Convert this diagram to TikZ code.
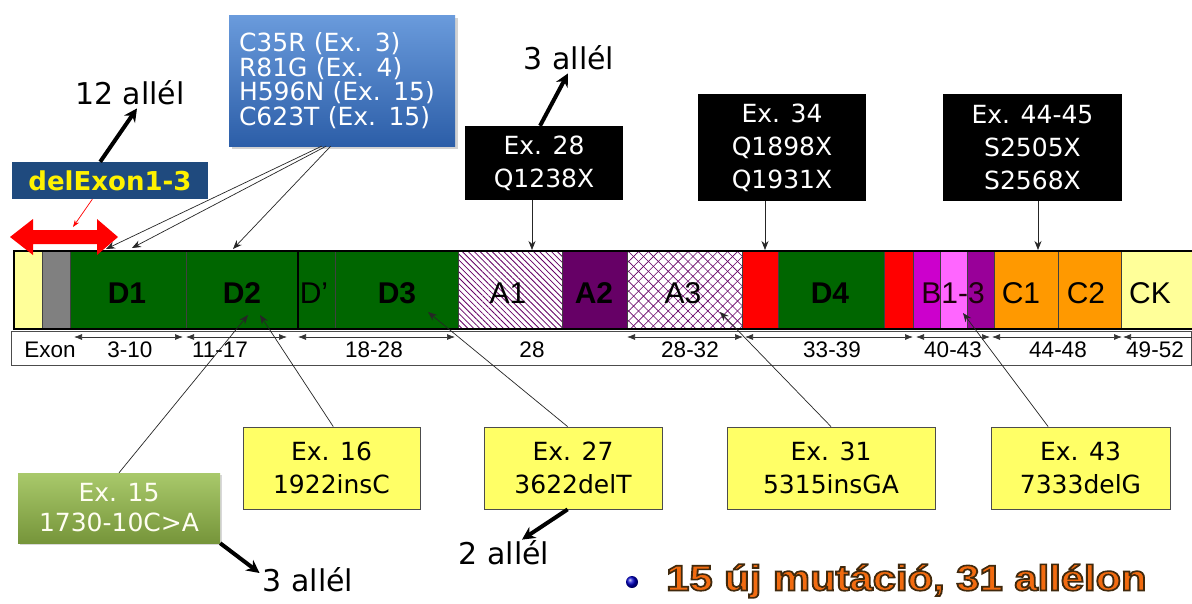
\documentclass[tikz,border=0pt]{standalone}
\usepackage{fontspec}
\setmainfont{DejaVu Sans}
\newfontfamily\arialf{Liberation Sans}
\usetikzlibrary{arrows.meta,patterns,patterns.meta,shadows,calc}
\definecolor{dgreen}{HTML}{006600}
\definecolor{lyel}{HTML}{FFFF99}
\definecolor{apurple}{HTML}{660066}
\definecolor{bmag}{HTML}{CC00CC}
\definecolor{bpink}{HTML}{FF66FF}
\definecolor{bpur}{HTML}{990099}
\definecolor{corange}{HTML}{FF9900}
\definecolor{boxyel}{HTML}{FFFF66}
\definecolor{deldark}{HTML}{1F4A7E}
\definecolor{bluetop}{HTML}{6A9BDC}
\definecolor{bluebot}{HTML}{2C5EA8}
\definecolor{greentop}{HTML}{A9C96B}
\definecolor{greenbot}{HTML}{76953A}
\definecolor{txtorange}{HTML}{F26B10}
\begin{document}
\begin{tikzpicture}[x=1pt,y=-1pt,
  segline/.style={draw=black!75, line width=0.7pt},
  dom/.style={font=\arialf\fontsize{30}{32}\selectfont, inner sep=0pt},
  domb/.style={font=\arialf\bfseries\fontsize{30}{32}\selectfont, inner sep=0pt},
  exlab/.style={font=\arialf\fontsize{22.5}{24}\selectfont, inner sep=0pt},
  exarr/.style={{Latex[length=8pt,width=6pt]}-{Latex[length=8pt,width=6pt]}, line width=0.7pt, black!80},
  blackbox/.style={fill=black, text=white, align=center, inner sep=0pt,
     font=\fontsize{25}{33}\selectfont},
  yelbox/.style={fill=boxyel, draw=black!70, line width=0.8pt, align=center, inner sep=0pt,
     minimum height=82pt, font=\fontsize{25}{33}\selectfont},
  allel/.style={font=\fontsize{30}{32}\selectfont, inner sep=0pt},
  thin/.style={-{Stealth[length=9pt,width=7pt]}, line width=0.7pt, black!85},
  thick/.style={-{Stealth[length=13pt,width=13pt]}, line width=4pt, black},
]
\useasboundingbox (0,0) rectangle (1192,603);
\clip (0,0) rectangle (1192,603);
\fill[white] (0,0) rectangle (1192,603);

% ---------- protein bar ----------
\filldraw[segline, fill=lyel] (14,251) rectangle (42,329);
\filldraw[segline, fill=black!50] (42,251) rectangle (70,329);
\filldraw[segline, fill=dgreen] (70,251) rectangle (186,329);
\filldraw[segline, fill=dgreen] (186,251) rectangle (298,329);
\filldraw[segline, fill=dgreen] (298,251) rectangle (335,329);
\filldraw[segline, fill=dgreen] (335,251) rectangle (458,329);
\fill[white] (458,251) rectangle (562,329);
\fill[pattern={Lines[angle=-45,distance=4.2pt,line width=0.8pt]}, pattern color=apurple] (458,251) rectangle (562,329);
\draw[segline] (458,251) rectangle (562,329);
\filldraw[segline, fill=apurple] (562,251) rectangle (627,329);
\fill[white] (627,251) rectangle (742,329);
\fill[pattern={Lines[angle=45,distance=7pt,line width=0.6pt]}, pattern color=apurple] (627,251) rectangle (742,329);
\fill[pattern={Lines[angle=-45,distance=7pt,line width=0.6pt]}, pattern color=apurple] (627,251) rectangle (742,329);
\draw[segline] (627,251) rectangle (742,329);
\filldraw[segline, fill=red] (742,251) rectangle (778,329);
\filldraw[segline, fill=dgreen] (778,251) rectangle (884,329);
\filldraw[segline, fill=red] (884,251) rectangle (913,329);
\filldraw[segline, fill=bmag] (913,251) rectangle (940,329);
\filldraw[segline, fill=bpink] (940,251) rectangle (967,329);
\filldraw[segline, fill=bpur] (967,251) rectangle (994,329);
\filldraw[segline, fill=corange] (994,251) rectangle (1058,329);
\filldraw[segline, fill=corange] (1058,251) rectangle (1121,329);
\filldraw[segline, fill=lyel] (1121,251) rectangle (1200,329);
\draw[line width=2.2pt] (14,251) rectangle (1200,329);
\draw[line width=2.2pt] (298,251) -- (298,329);

% domain labels
\node[domb] (lD1) at (127,293) {D1};
\node[domb] (lD2) at (242,293) {D2};
\node[dom] (lDp) at (314,293) {D’};
\node[domb] (lD3) at (397,293) {D3};
\node[dom] (lA1) at (508,293) {A1};
\node[domb] (lA2) at (594,293) {A2};
\node[dom] (lA3) at (683,293) {A3};
\node[domb] (lD4) at (830,293) {D4};
\node[dom, text=black!85!purple] (lB) at (953,293) {B1-3};
\node[dom] (lC1) at (1021,293) {C1};
\node[dom] (lC2) at (1086,293) {C2};
\node[dom] (lCK) at (1150,293) {CK};

% ---------- exon row ----------
\draw[black!70, line width=0.8pt] (11,331) rectangle (1191.5,365);
\draw[exarr] (74,337) -- (183,337);
\draw[exarr] (186,337) -- (287,337);
\draw[exarr] (298,337) -- (455,337);
\draw[exarr] (627,337) -- (743,337);
\draw[exarr] (745,337) -- (913,337);
\draw[exarr] (916,337) -- (990,337);
\draw[exarr] (992,337) -- (1122,337);
\draw[{Latex[length=8pt,width=6pt]}-, line width=0.7pt, black!80] (1123,337) -- (1192,337);
\node[exlab] (eExon) at (50,350) {Exon};
\node[exlab] (e1) at (130,350) {3-10};
\node[exlab] (e2) at (220,350) {11-17};
\node[exlab] (e3) at (374,350) {18-28};
\node[exlab] (e4) at (532,350) {28};
\node[exlab] (e5) at (690,350) {28-32};
\node[exlab] (e6) at (832,350) {33-39};
\node[exlab] (e7) at (953,350) {40-43};
\node[exlab] (e8) at (1058,350) {44-48};
\node[exlab] (e9) at (1155,350) {49-52};

% ---------- target points ----------
\coordinate (t1) at (106,249);
\coordinate (t2) at (132,248);
\coordinate (t3) at (233,249);
\coordinate (t28) at (532,250);
\coordinate (t34) at (765,250);
\coordinate (t44) at (1038,250);
\coordinate (u15) at (248,315);
\coordinate (u16) at (260,315);
\coordinate (u27) at (428,312);
\coordinate (u31) at (720,312);
\coordinate (u43) at (963,313);
\coordinate (rtip) at (73,227);

% ---------- red double arrow ----------
\fill[red] (10,237) -- (33,219) -- (33,230) -- (97,230) -- (97,219) -- (118,237)
  -- (97,255) -- (97,244) -- (33,244) -- (33,255) -- cycle;

% ---------- top boxes ----------
\node[top color=bluetop, bottom color=bluebot, text=white, align=left,
      text width=206pt, inner xsep=10pt, inner ysep=0pt, minimum height=131pt,
      font=\fontsize{25}{24.5}\selectfont,
      drop shadow={shadow xshift=3pt, shadow yshift=-3pt, opacity=0.35}]
  (blue) at (342,80.5) {C35R (Ex. 3)\\R81G (Ex. 4)\\H596N (Ex. 15)\\C623T (Ex. 15)};
\node[fill=deldark, text=yellow, inner sep=0pt, minimum width=196pt, minimum height=37pt,
      font=\bfseries\fontsize{26}{28}\selectfont] (del) at (110,180.5) {delExon1-3};
\node[blackbox, minimum width=158pt, minimum height=74pt] (ex28) at (544,163) {Ex. 28\\Q1238X};
\node[blackbox, minimum width=168pt, minimum height=107pt] (ex34) at (782,147.5) {Ex. 34\\Q1898X\\Q1931X};
\node[blackbox, minimum width=179pt, minimum height=107pt] (ex44) at (1032.5,147.5) {Ex. 44-45\\S2505X\\S2568X};

\node[allel] (a12) at (130,93) {12 allél};
\node[allel] (a3t) at (569,58) {3 allél};

% ---------- bottom boxes ----------
\node[top color=greentop, bottom color=greenbot, text=white!95!yellow, align=center,
      inner sep=0pt, minimum width=202pt, minimum height=70pt,
      font=\fontsize{25}{30}\selectfont,
      drop shadow={shadow xshift=2pt, shadow yshift=-2pt, opacity=0.3}]
  (ex15) at (119,508) {Ex. 15\\1730-10C>A};
\node[yelbox, minimum width=177pt] (ex16) at (331.5,468) {Ex. 16\\1922insC};
\node[yelbox, minimum width=178pt] (ex27) at (573,468) {Ex. 27\\3622delT};
\node[yelbox, minimum width=208pt] (ex31) at (831,468) {Ex. 31\\5315insGA};
\node[yelbox, minimum width=179pt] (ex43) at (1080.5,468) {Ex. 43\\7333delG};

\node[allel] (a3b) at (308,580) {3 allél};
\node[allel] (a2) at (504,553) {2 allél};

% ---------- connectors ----------
\draw[thin] ($(blue.south west)!0.41!(blue.south east)$) -- (t1);
\draw[thin] ($(blue.south west)!0.43!(blue.south east)$) -- (t2);
\draw[thin] ($(blue.south west)!0.45!(blue.south east)$) -- (t3);
\draw[-{Stealth[length=7pt,width=5pt]}, red, line width=0.7pt] ($(del.south west)!0.41!(del.south east)$) -- (rtip);
\draw[thin] (ex28.south -| t28) -- (t28);
\draw[thin] (ex34.south -| t34) -- (t34);
\draw[thin] (ex44.south -| t44) -- (t44);
\draw[thin] ($(ex15.north west)!0.5!(ex15.north east)$) -- (u15);
\draw[thin] ($(ex16.north west)!0.51!(ex16.north east)$) -- (u16);
\draw[thin] ($(ex27.north west)!0.47!(ex27.north east)$) -- (u27);
\draw[thin] ($(ex31.north west)!0.5!(ex31.north east)$) -- (u31);
\draw[thin] ($(ex43.north west)!0.32!(ex43.north east)$) -- (u43);

\draw[thick] ($(del.north west)!0.45!(del.north east)$) -- ($(a12.south)+(7,3)$);
\draw[thick] ($(ex28.north west)!0.475!(ex28.north east)$) -- ($(a3t.south)+(-1,3)$);
\draw[thick] (ex15.south east) -- ($(a3b.west)+(-3,-7)$);
\draw[thick] ($(ex27.south west)!0.47!(ex27.south east)$) -- ($(a2.north)+(18,-1)$);

% ---------- summary line ----------
\shade[ball color=blue!80!black] (632,582) circle (6pt);
\node (bul) at (632,582) {};
\node[anchor=west, inner sep=0pt, xscale=1.16,
      font=\arialf\bfseries\fontsize{36}{38}\selectfont] (sum) at (666,581)
  {\color{txtorange}\special{pdf:literal direct 2 Tr 1.6 w 0.25 0.16 0.05 RG}15 új mutáció, 31 allélon\special{pdf:literal direct 0 Tr}};
\end{tikzpicture}
\end{document}
